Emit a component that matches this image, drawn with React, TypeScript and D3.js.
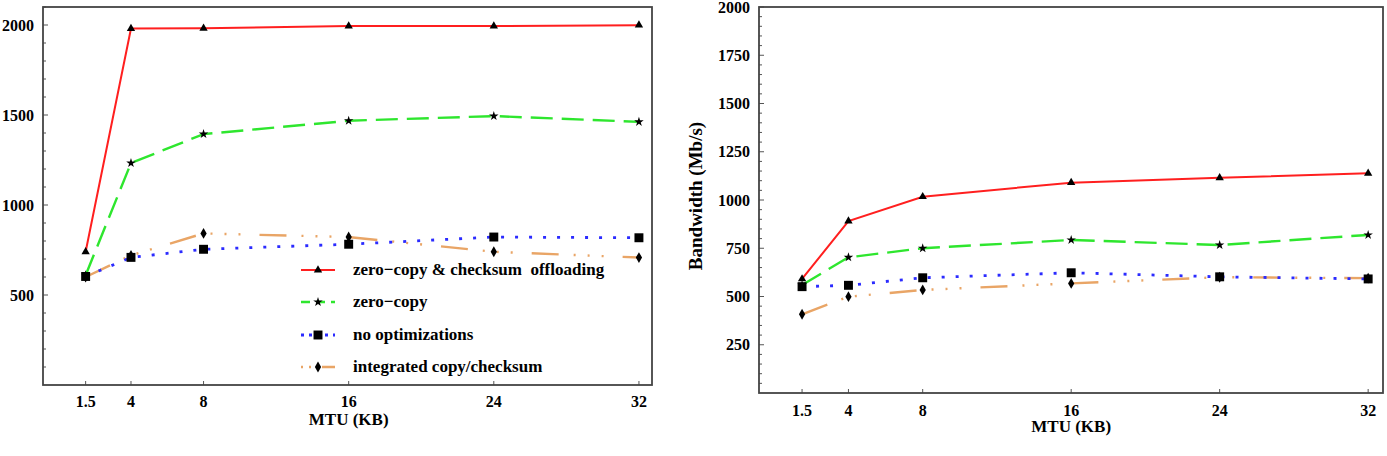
import React, { useEffect, useRef } from "react"
import * as d3 from "d3"

// MTU sizes (KB) on the x axis
const mtu = [1.5, 4, 8, 16, 24, 32]

// left panel
const leftOffload = [740, 1980, 1982, 1994, 1994, 1999]
const leftZeroCopy = [610, 1233, 1394, 1468, 1494, 1462]
const leftNoOpt = [603, 709, 754, 782, 822, 818]
const leftIntegrated = [600, 720, 842, 822, 740, 708]

// right panel
const rightOffload = [591, 891, 1017, 1090, 1115, 1138]
const rightZeroCopy = [560, 703, 750, 793, 767, 819]
const rightNoOpt = [551, 558, 597, 623, 602, 591]
const rightIntegrated = [408, 499, 534, 568, 600, 595]

const seriesNames = [
	"zero\u2212copy & checksum  offloading",
	"zero\u2212copy",
	"no optimizations",
	"integrated copy/checksum",
]
const leftYTicks = [500, 1000, 1500, 2000]
const rightYTicks = [250, 500, 750, 1000, 1250, 1500, 1750, 2000]

const styles = [
	{ color: "#ff1f1f", dash: "none", width: 2, symbol: d3.symbolTriangle, size: 30 },
	{ color: "#2ee62e", dash: "22,9", width: 2.4, symbol: d3.symbolStar, size: 28 },
	{ color: "#2b2bff", dash: "3,11", width: 2.8, symbol: d3.symbolSquare, size: 80 },
	{ color: "#e9a566", dash: "27,15,2,12,2,12,2,19", width: 2.4, symbol: d3.symbolDiamond, size: 34 },
]

const FONT = "'Liberation Serif', 'Times New Roman', serif"

type Panel = {
	x0: number
	x1: number
	y0: number
	y1: number
	xDomain: [number, number]
	yMax: number
	yTicks: number[]
	minorStep: number
	series: number[][]
	xTickBase: number
	xLabelBase: number
	legend: boolean
	yLabel: boolean
}

const panels: Panel[] = [
	{
		x0: 43, x1: 652, y0: 7, y1: 385,
		xDomain: [-0.85, 32.72], yMax: 2100, yTicks: leftYTicks, minorStep: 100,
		series: [leftOffload, leftZeroCopy, leftNoOpt, leftIntegrated],
		xTickBase: 407, xLabelBase: 425, legend: true, yLabel: false,
	},
	{
		x0: 759, x1: 1383, y0: 7, y1: 393,
		xDomain: [-0.82, 32.8], yMax: 2000, yTicks: rightYTicks, minorStep: 50,
		series: [rightOffload, rightZeroCopy, rightNoOpt, rightIntegrated],
		xTickBase: 416, xLabelBase: 432, legend: false, yLabel: true,
	},
]

function drawPanel(svg: d3.Selection<SVGSVGElement, unknown, null, undefined>, p: Panel) {
	const x = d3.scaleLinear().domain(p.xDomain).range([p.x0, p.x1])
	const y = d3.scaleLinear().domain([0, p.yMax]).range([p.y1, p.y0])
	const g = svg.append("g")

	// minor + major y ticks, inside the frame
	const minor = d3.range(p.minorStep, p.yMax + 1, p.minorStep)
	g.selectAll(".ymin")
		.data(minor)
		.enter()
		.append("line")
		.attr("x1", p.x0)
		.attr("x2", (d) => p.x0 + (p.yTicks.includes(d) ? 5 : 3))
		.attr("y1", (d) => y(d))
		.attr("y2", (d) => y(d))
		.attr("stroke", "#555")
		.attr("stroke-width", 1)

	g.selectAll(".ylab")
		.data(p.yTicks)
		.enter()
		.append("text")
		.attr("x", p.x0 - 9)
		.attr("y", (d) => y(d))
		.attr("dy", "0.35em")
		.attr("text-anchor", "end")
		.attr("font-family", FONT)
		.attr("font-weight", "bold")
		.attr("font-size", 16)
		.text((d) => d)

	// x ticks
	g.selectAll(".xt")
		.data(mtu)
		.enter()
		.append("line")
		.attr("x1", (d) => x(d))
		.attr("x2", (d) => x(d))
		.attr("y1", p.y1)
		.attr("y2", p.y1 - 4)
		.attr("stroke", "#555")

	g.selectAll(".xlab")
		.data(mtu)
		.enter()
		.append("text")
		.attr("x", (d) => x(d))
		.attr("y", p.xTickBase)
		.attr("text-anchor", "middle")
		.attr("font-family", FONT)
		.attr("font-weight", "bold")
		.attr("font-size", 16)
		.text((d) => d)

	g.append("text")
		.attr("x", x(16))
		.attr("y", p.xLabelBase)
		.attr("text-anchor", "middle")
		.attr("font-family", FONT)
		.attr("font-weight", "bold")
		.attr("font-size", 17)
		.text("MTU (KB)")

	if (p.yLabel) {
		g.append("text")
			.attr("transform", `translate(${p.x0 - 57},${(p.y0 + p.y1) / 2 - 4}) rotate(-90)`)
			.attr("text-anchor", "middle")
			.attr("font-family", FONT)
			.attr("font-weight", "bold")
			.attr("font-size", 19)
			.text("Bandwidth (Mb/s)")
	}

	const line = d3
		.line<number>()
		.x((d, i) => x(mtu[i]))
		.y((d) => y(d))

	// draw bottom series first
	const order = [3, 2, 1, 0]
	order.forEach((k) => {
		const s = styles[k]
		g.append("path")
			.attr("d", line(p.series[k]))
			.attr("fill", "none")
			.attr("stroke", s.color)
			.attr("stroke-width", s.width)
			.attr("stroke-dasharray", s.dash)
	})
	order.forEach((k) => {
		const s = styles[k]
		g.selectAll(".m" + k)
			.data(p.series[k])
			.enter()
			.append("path")
			.attr("d", d3.symbol().type(s.symbol).size(s.size)())
			.attr("transform", (d, i) => `translate(${x(mtu[i])},${y(d)})`)
			.attr("fill", "#000")
	})

	if (p.legend) {
		const rows = [270, 302, 335, 367]
		styles.forEach((s, k) => {
			const ly = rows[k]
			g.append("line")
				.attr("x1", 301)
				.attr("x2", 335)
				.attr("y1", ly)
				.attr("y2", ly)
				.attr("stroke", s.color)
				.attr("stroke-width", s.width)
				.attr("stroke-dasharray", k === 1 ? "9,6" : k === 2 ? "3,5" : k === 3 ? "2,6,2,6,2,3,30" : "none")
			g.append("path")
				.attr("d", d3.symbol().type(s.symbol).size(s.size)())
				.attr("transform", `translate(318,${ly})`)
				.attr("fill", "#000")
			g.append("text")
				.attr("x", 353)
				.attr("y", ly + 5)
				.attr("font-family", FONT)
				.attr("font-weight", "bold")
				.attr("font-size", 17)
				.attr("xml:space", "preserve")
				.style("white-space", "pre")
				.text(seriesNames[k])
		})
	}

	// frame
	g.append("rect")
		.attr("x", p.x0)
		.attr("y", p.y0)
		.attr("width", p.x1 - p.x0)
		.attr("height", p.y1 - p.y0)
		.attr("fill", "none")
		.attr("stroke", "#444")
		.attr("stroke-width", 1.8)
}

const App: React.FC = () => {
	const ref = useRef<SVGSVGElement>(null)

	useEffect(() => {
		const svg = d3.select(ref.current!)
		svg.selectAll("*").remove()
		panels.forEach((p) => drawPanel(svg, p))
	}, [])

	return (
		<svg
			ref={ref}
			width={1387}
			height={456}
			style={{ position: "absolute", left: 0, top: 0, background: "#fff" }}
		/>
	)
}

export default App
